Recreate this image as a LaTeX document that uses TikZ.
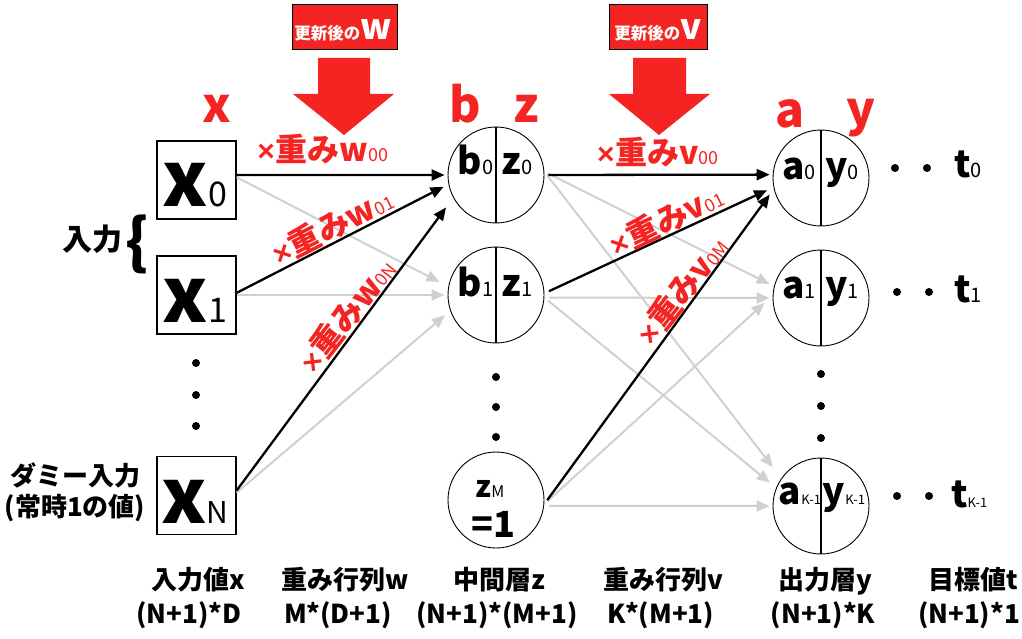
\documentclass[tikz,border=0pt]{standalone}
\usepackage{fontspec}
\setmainfont{Noto Sans CJK JP}
\newfontfamily\latfont{Liberation Sans}
\usetikzlibrary{arrows.meta,calc}
\definecolor{myred}{RGB}{244,36,34}
\definecolor{lgray}{RGB}{208,208,208}
\newcommand{\myfs}[1]{\fontsize{#1}{#1}\selectfont}
\newcommand{\mysb}[2]{{\myfs{#1}\mdseries #2}}
\newcommand{\mytimes}{{\latfont\bfseries\myfs{30}×}\kern1pt}
\begin{document}
\begin{tikzpicture}[x=1pt,y=-1pt,
  inbox/.style={draw,line width=1.2pt,minimum width=79pt,minimum height=78pt,inner sep=0pt},
  neuron/.style={circle,draw,line width=0.9pt,minimum size=96pt,inner sep=0pt},
  blk/.style={draw=black,line width=2.3pt,-{Triangle[length=13pt,width=11pt]}},
  gry/.style={draw=lgray,line width=2pt,-{Triangle[length=13pt,width=11pt]}},
  split/.style={line width=2.6pt},
  lab/.style={inner sep=0pt,anchor=base},
  nlab/.style={lab,font=\myfs{37}\bfseries},
  bigx/.style={lab,font=\myfs{76}\bfseries},
  redlab/.style={lab,text=myred,font=\myfs{48}\bfseries},
  wlab/.style={inner sep=0pt,text=myred,font=\myfs{32}\bfseries},
  bot/.style={lab,font=\myfs{26}\bfseries},
  side/.style={lab,font=\myfs{26}\bfseries},
  dot/.style={circle,fill=black,inner sep=0pt,minimum size=8pt},
  redbox/.style={draw=black,line width=0.8pt,fill=myred},
]
\useasboundingbox (0,0) rectangle (1022,639);

% update boxes and big arrows
\path[redbox] (292,4) rectangle (397,49);
\node[lab,text=white,font=\bfseries] (updw) at (343,40) {\myfs{16.5}更新後の\myfs{35}w};
\path[redbox] (609,4) rectangle (707,49);
\node[lab,text=white,font=\bfseries] (updv) at (658,40) {\myfs{16.5}更新後の\myfs{35}v};
\fill[myred] (318,58) -- (370,58) -- (370,94) -- (394,94) -- (344,135) -- (293,94) -- (318,94) -- cycle;
\fill[myred] (633,58) -- (686,58) -- (686,94) -- (710,94) -- (659,135) -- (609,94) -- (633,94) -- cycle;

% red layer labels
\node[redlab] (rx) at (217,123) {x};
\node[redlab] (rb) at (465,123) {b};
\node[redlab] (rz) at (526,123) {z};
\node[redlab] (ra) at (790,128) {a};
\node[redlab] (ry) at (861,127) {y};

% input boxes
\node[inbox] (x0) at (196.5,180) {};
\node[inbox] (x1) at (196.5,295) {};
\node[inbox] (xN) at (196.5,495.5) {};
\node[bigx] (x0t) at (195,207) {x\mysb{34}{0}};
\node[bigx] (x1t) at (195,322) {x\mysb{34}{1}};
\node[bigx] (xNt) at (195,523) {x\mysb{30}{N}};
\node[dot] (dx1) at (196,363) {};
\node[dot] (dx2) at (196,395) {};
\node[dot] (dx3) at (196,426) {};

% hidden neurons
\node[neuron] (h0) at (496,175) {};
\node[neuron] (h1) at (496,295) {};
\node[neuron] (hM) at (496,500) {};
\draw[split] (h0.north) -- (h0.south);
\draw[split] (h1.north) -- (h1.south);
\node[nlab] (h0b) at (475.5,175) {b\mysb{20}{0}};
\node[nlab] (h0z) at (517,175) {z\mysb{20}{0}};
\node[nlab] (h1b) at (475.5,296) {b\mysb{20}{1}};
\node[nlab] (h1z) at (517,296) {z\mysb{20}{1}};
\node[lab,font=\myfs{30}\bfseries] (hMz) at (490,497) {z\mysb{16}{M}};
\node[lab,font=\myfs{36}\bfseries] (hMo) at (493,537) {=1};
\node[dot] (dh1) at (496,377) {};
\node[dot] (dh2) at (496,407) {};
\node[dot] (dh3) at (496,437) {};

% output neurons
\node[neuron] (o0) at (821,178) {};
\node[neuron] (o1) at (821,298) {};
\node[neuron] (oK) at (821,506) {};
\draw[split] (o0.north) -- (o0.south);
\draw[split] (o1.north) -- (o1.south);
\draw[split] (oK.north) -- (oK.south);
\node[nlab] (o0a) at (799,179) {a\mysb{20}{0}};
\node[nlab] (o0y) at (842,179) {y\mysb{20}{0}};
\node[nlab] (o1a) at (799,298) {a\mysb{20}{1}};
\node[nlab] (o1y) at (842,298) {y\mysb{20}{1}};
\node[nlab] (oKa) at (800,504) {a\mysb{13}{K-1}};
\node[nlab] (oKy) at (844,504) {y\mysb{13}{K-1}};
\node[dot] (do1) at (821,374) {};
\node[dot] (do2) at (821,406) {};
\node[dot] (do3) at (821,438) {};

% targets
\node[dot] (t0d1) at (895,168) {};
\node[dot] (t0d2) at (927,168) {};
\node[nlab,anchor=base west] (t0) at (954,178) {t\mysb{20}{0}};
\node[dot] (t1d1) at (897,292) {};
\node[dot] (t1d2) at (929,292) {};
\node[nlab,anchor=base west] (t1) at (954,302) {t\mysb{20}{1}};
\node[dot] (tKd1) at (897,496) {};
\node[dot] (tKd2) at (929,496) {};
\node[nlab,anchor=base west] (tK) at (951,507) {t\mysb{13}{K-1}};

% connectors input -> hidden
\draw[gry,shorten >=10pt] (x0.4) -- (h1.170);
\draw[gry,shorten >=3pt] (x1.east) -- (h1.180);
\draw[gry,shorten >=7pt] (xN.4) -- (h1.199);
\draw[blk,shorten >=3pt] (x0.7) -- (h0.180);
\draw[blk,shorten >=5.5pt] (x1.3) -- (h0.191);
\draw[blk,shorten >=12pt] (xN.7) -- (h0.208);

% connectors hidden -> output
\draw[gry,shorten <=4pt,shorten >=5pt] (h0.4) -- (o1.166);
\draw[gry,shorten <=4pt,shorten >=14pt] (h0.4) -- (oK.145);
\draw[gry,shorten <=5pt,shorten >=3pt] (h1.-3) -- (o1.180);
\draw[gry,shorten <=5pt,shorten >=8pt] (h1.-3) -- (oK.158);
\draw[gry,shorten <=5pt,shorten >=11pt] (hM.-5) -- (o1.177);
\draw[gry,shorten <=5pt,shorten >=3pt] (hM.-7) -- (oK.180);
\draw[blk,shorten <=4pt,shorten >=3pt] (h0.east) -- (o0.176);
\draw[blk,shorten <=5pt,shorten >=7pt] (h1.2) -- (o0.191);
\draw[blk,shorten <=5pt,shorten >=7pt] (hM.-5) -- (o0.193);

% weight labels
\node[wlab,anchor=base] (w00) at (323,162) {\mytimes 重みw\mysb{18}{00}};
\node[wlab,rotate=27] (w01) at (332,226) {\mytimes 重みw\mysb{18}{01}};
\node[wlab,rotate=52] (w0N) at (347,315) {\mytimes 重みw\mysb{18}{0N}};
\node[wlab,anchor=base] (v00) at (658,165) {\mytimes 重みv\mysb{18}{00}};
\node[wlab,rotate=26] (v01) at (666,220) {\mytimes 重みv\mysb{18}{01}};
\node[wlab,rotate=52] (v0M) at (682,290) {\mytimes 重みv\mysb{18}{0M}};

% side labels
\node[lab,font=\myfs{30}\bfseries] (inlab) at (92,250) {入力};
\node[lab,font=\myfs{60}\bfseries] (brace) at (137,263) {\{};
\node[side] (dummy) at (75,485) {ダミー入力};
\node[side] (dummy2) at (75,516) {(常時1の値)};

% bottom labels
\node[bot] (b1) at (198,589) {入力値x};
\node[bot] (b2) at (189,623) {(N+1)*D};
\node[bot] (b3) at (345,589) {重み行列w};
\node[bot] (b4) at (338,623) {M*(D+1)};
\node[bot] (b5) at (499,589) {中間層z};
\node[bot] (b6) at (497,623) {(N+1)*(M+1)};
\node[bot] (b7) at (663,589) {重み行列v};
\node[bot] (b8) at (661,623) {K*(M+1)};
\node[bot] (b9) at (825,589) {出力層y};
\node[bot] (b10) at (823,623) {(N+1)*K};
\node[bot] (b11) at (973,589) {目標値t};
\node[bot] (b12) at (969,623) {(N+1)*1};
\end{tikzpicture}
\end{document}
